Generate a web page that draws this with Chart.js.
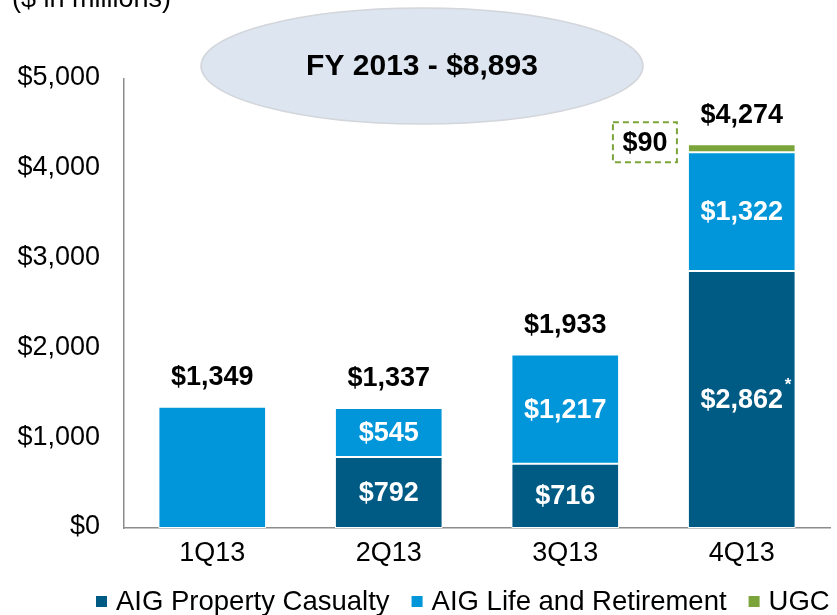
<!DOCTYPE html>
<html>
<head>
<meta charset="utf-8">
<script src="https://cdn.jsdelivr.net/npm/chart.js@4"></script>
<style>
  html, body { margin: 0; padding: 0; background: #fff; }
  #wrap { width: 837px; height: 615px; position: relative; }
</style>
</head>
<body>
<div id="wrap"><canvas id="myChart"></canvas></div>
<script>
let quarters = ["1Q13", "2Q13", "3Q13", "4Q13"];
let propertyCasualty = [0, 792, 716, 2862];
let lifeRetirement = [1349, 545, 1217, 1322];
let ugc = [0, 0, 0, 90];
let pcNotes = ["", "", "", "*"];
let yTicks = [0, 1000, 2000, 3000, 4000, 5000];
let unitText = "($ in millions)";
let fyText = "FY 2013 - $8,893";

let myChart;
const FONT = "'Liberation Sans', Arial, sans-serif";

function money(v) {
  return "$" + v.toLocaleString("en-US");
}

function drawText(ctx, text, x, y, font, color, align) {
  ctx.save();
  ctx.font = font;
  ctx.fillStyle = color;
  ctx.textAlign = align || "center";
  ctx.textBaseline = "middle";
  ctx.fillText(text, x, y);
  const w = ctx.measureText(text).width;
  ctx.restore();
  return w;
}

// draws tick labels, value labels, totals, the FY oval, the $90 box and the legend
const extrasPlugin = {
  id: "extras",
  afterDraw(chart) {
    const ctx = chart.ctx;
    const metas = chart.data.datasets.map((d, i) => chart.getDatasetMeta(i));
    const xs = chart.scales.x;
    const ys = chart.scales.y;

    // unit caption (cut off at the top like the slide)
    drawText(ctx, unitText, 12, 0, "27px " + FONT, "#000", "left");

    // axis labels
    yTicks.forEach(v => {
      drawText(ctx, money(v), 100, ys.getPixelForValue(v) - 1, "27px " + FONT, "#000", "right");
    });
    quarters.forEach((q, i) => {
      drawText(ctx, q, xs.getPixelForValue(i), 554, "27px " + FONT, "#000");
    });

    // segment labels
    quarters.forEach((q, i) => {
      const parts = [propertyCasualty[i], lifeRetirement[i]].filter(v => v > 0);
      if (parts.length < 2) return;
      [0, 1].forEach(ds => {
        const v = chart.data.datasets[ds].data[i];
        const bar = metas[ds].data[i];
        const cy = (bar.y + bar.base) / 2 + 1;
        const w = drawText(ctx, money(v), bar.x, cy, "bold 27px " + FONT, "#fff");
        if (ds === 0 && pcNotes[i]) {
          drawText(ctx, pcNotes[i], bar.x + w / 2 + 5, cy - 15, "bold 17px " + FONT, "#fff");
        }
      });
    });

    // totals above bars
    quarters.forEach((q, i) => {
      const total = propertyCasualty[i] + lifeRetirement[i] + ugc[i];
      const top = Math.min(...metas.map(m => m.data[i].y));
      drawText(ctx, money(total), metas[0].data[i].x, top - 29, "bold 27px " + FONT, "#000");
    });

    // dashed box for UGC
    ugc.forEach((v, i) => {
      if (!v) return;
      const bar = metas[2].data[i];
      const w = 64, h = 40;
      const right = bar.x - bar.width / 2 - 11;
      const cy = (bar.y + bar.base) / 2 - 6;
      ctx.save();
      ctx.setLineDash([6, 4]);
      ctx.strokeStyle = "#7BA43A";
      ctx.lineWidth = 2;
      ctx.strokeRect(right - w, cy - h / 2, w, h);
      ctx.restore();
      drawText(ctx, money(v), right - w / 2, cy + 1, "bold 27px " + FONT, "#000");
    });

    // FY oval
    ctx.save();
    ctx.beginPath();
    ctx.ellipse(422, 66, 221, 58, 0, 0, Math.PI * 2);
    ctx.fillStyle = "#DCE5F0";
    ctx.fill();
    ctx.strokeStyle = "#D3D6DA";
    ctx.lineWidth = 1.5;
    ctx.stroke();
    ctx.restore();
    drawText(ctx, fyText, 422, 67, "bold 30px " + FONT, "#000");

    // legend
    let x = 96;
    const ly = 602;
    chart.data.datasets.forEach(d => {
      ctx.fillStyle = d.backgroundColor;
      ctx.fillRect(x, ly - 6, 11, 11);
      x += 20;
      x += drawText(ctx, d.label, x, ly, "27.5px " + FONT, "#000", "left") + 22;
    });
  },
};

function renderChart() {
  const ctx = document.getElementById("myChart");
  if (myChart) {
    myChart.destroy();
  }
  myChart = new Chart(ctx, {
    type: "bar",
    data: {
      labels: quarters,
      datasets: [
        {
          label: "AIG Property Casualty",
          data: propertyCasualty,
          backgroundColor: "#005B84",
        },
        {
          label: "AIG Life and Retirement",
          data: lifeRetirement,
          backgroundColor: "#0096D9",
        },
        {
          label: "UGC",
          data: ugc,
          backgroundColor: "#7BA43A",
        },
      ],
    },
    options: {
      responsive: true,
      maintainAspectRatio: false,
      animation: false,
      layout: { padding: { top: 79, right: 7, bottom: 50, left: 0 } },
      datasets: {
        bar: {
          borderColor: "#ffffff",
          borderWidth: 1,
          borderSkipped: false,
          barPercentage: 0.61,
          categoryPercentage: 1,
        },
      },
      plugins: {
        legend: { display: false },
        tooltip: { enabled: false },
      },
      scales: {
        x: {
          stacked: true,
          grid: { display: false, drawTicks: false },
          border: { display: true, color: "#8C8C8C", width: 1.5 },
          ticks: { display: false },
          afterFit: s => { s.height = 37; },
        },
        y: {
          stacked: true,
          min: yTicks[0],
          max: yTicks[yTicks.length - 1],
          afterBuildTicks: s => { s.ticks = yTicks.map(v => ({ value: v })); },
          grid: { display: false, drawTicks: false },
          border: { display: true, color: "#8C8C8C", width: 1.5 },
          ticks: { display: false },
          afterFit: s => { s.width = 124; },
        },
      },
    },
    plugins: [extrasPlugin],
  });
}

renderChart();
</script>
</body>
</html>
